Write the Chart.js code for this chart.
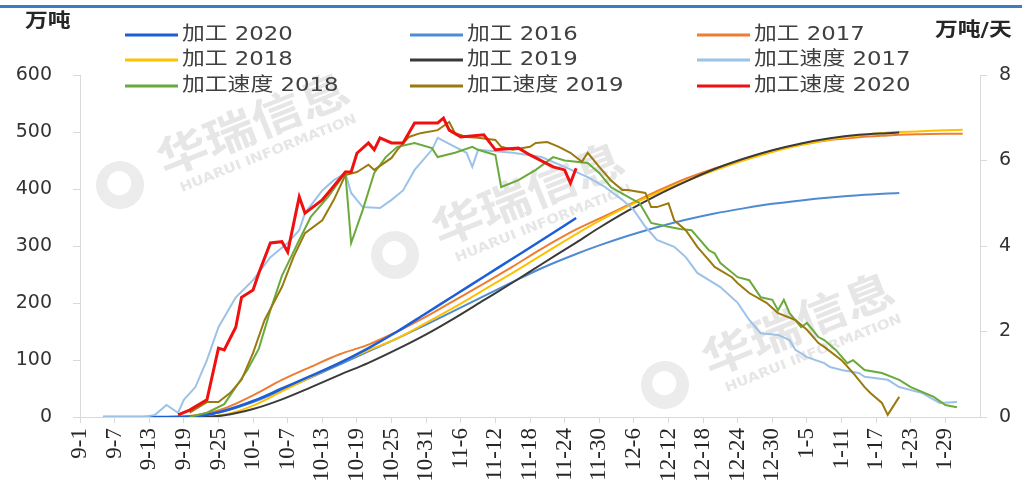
<!DOCTYPE html>
<html>
<head>
<meta charset="utf-8">
<script src="https://cdn.jsdelivr.net/npm/chart.js@4.4.1/dist/chart.umd.min.js"></script>
<style>
  body { margin: 0; background: #fff; }
  #wrap { width: 1022px; height: 486px; position: relative; }
</style>
</head>
<body>
<div id="wrap"><canvas id="chart"></canvas></div>
<script>
// x axis tick labels (one every 6 days, day 0 = 9-1)
const tickLabels = ['9-1', '9-7', '9-13', '9-19', '9-25', '10-1', '10-7', '10-13', '10-19', '10-25',
  '10-31', '11-6', '11-12', '11-18', '11-24', '11-30', '12-6', '12-12', '12-18', '12-24',
  '12-30', '1-5', '1-11', '1-17', '1-23', '1-29'];
const tickDays = tickLabels.map((_, i) => i * 6);

// cumulative processing (万吨), sampled on these days
const cumDays = [4, 15, 20, 25, 30, 35, 40, 45, 50, 55, 60, 65, 70, 75, 80, 86, 90, 95, 100, 105,
  110, 115, 120, 125, 130, 135, 140, 142, 145, 150, 153];
const cum2020 = [0, 0, 1, 11, 28, 50, 72, 95, 121, 150, 182, 214, 246, 278, 310, 349,
  null, null, null, null, null, null, null, null, null, null, null, null, null, null, null];
const cum2016 = [0, 0, 2, 10, 26, 47, 69, 92, 115, 138, 162, 187, 212, 237, 261, 286, 301, 318, 333, 346,
  357, 366, 374, 380, 385, 389, 392, 393, null, null, null];
const cum2017 = [0, 0, 3, 15, 38, 65, 88, 110, 127, 150, 176, 205, 234, 264, 295, 329, 348, 372, 396, 418,
  436, 452, 467, 478, 486, 491, 494, 495, 496, 497, 497];
const cum2018 = [0, 0, 0, 4, 20, 45, 70, 95, 117, 138, 165, 193, 223, 253, 284, 321, 344, 370, 393, 414,
  433, 450, 465, 477, 487, 494, 499, 500, 501, 503, 504];
const cum2019 = [0, 0, 0, 3, 14, 31, 52, 74, 95, 119, 145, 174, 205, 236, 268, 306, 332, 362, 389, 413,
  435, 453, 468, 480, 489, 495, 498, 499, null, null, null];

// processing speed (万吨/天)
const spd2017Days = [4, 11, 13, 15, 17, 18, 20, 22, 24, 27, 30, 33, 36, 38, 39, 42, 44, 46, 47, 49, 52, 54, 56, 58,
  61, 62, 65, 67, 68, 69, 75, 80, 84, 88, 91, 94, 96, 98, 100, 103, 105, 107, 111, 114, 116, 118,
  121, 123, 124, 126, 129, 130, 132, 135, 136, 140, 142, 146, 149, 152];
const spd2017 = [0, 0, 0.05, 0.28, 0.1, 0.4, 0.7, 1.33, 2.1, 2.8, 3.2, 3.74, 4.07, 4.37, 4.77, 5.3, 5.54, 5.7, 5.24, 4.91, 4.89, 5.08, 5.3, 5.78,
  6.25, 6.53, 6.32, 6.18, 5.85, 6.25, 6.18, 6.08, 5.85, 5.61, 5.38, 5.08, 4.84, 4.45, 4.14, 3.98, 3.74, 3.37, 3.04, 2.67, 2.27, 1.96,
  1.92, 1.8, 1.57, 1.4, 1.26, 1.17, 1.1, 1.03, 0.94, 0.87, 0.7, 0.56, 0.33, 0.35];

const spd2018Days = [19, 22, 25, 27, 29, 31, 33, 35, 38, 40, 43, 46, 47, 49, 51, 53, 55, 58, 61, 62, 65, 68, 69, 72, 73,
  76, 79, 82, 84, 88, 90, 92, 95, 97, 99, 102, 104, 106, 109, 110, 111, 114, 116, 118, 120, 121, 122, 123,
  125, 126, 128, 129, 131, 133, 134, 136, 139, 142, 144, 148, 150, 152];
const spd2018 = [0, 0.1, 0.3, 0.7, 1.1, 1.6, 2.5, 3.3, 4.14, 4.68, 5.15, 5.71, 4.07, 4.84, 5.71, 6.08, 6.32, 6.41, 6.29, 6.08, 6.18, 6.32, 6.25, 6.13, 5.38,
  5.54, 5.78, 6.08, 6.0, 5.94, 5.71, 5.38, 5.15, 5.0, 4.54, 4.45, 4.4, 4.37, 3.9, 3.83, 3.6, 3.27, 3.2, 2.8, 2.74, 2.5, 2.74, 2.43,
  2.1, 2.2, 1.87, 1.8, 1.57, 1.26, 1.33, 1.1, 1.03, 0.87, 0.7, 0.47, 0.28, 0.23];

const spd2019Days = [19, 22, 24, 26, 28, 30, 32, 35, 37, 39, 42, 44, 46, 48, 50, 51, 54, 55, 57, 59, 62, 64, 65, 67, 69,
  72, 73, 75, 78, 79, 81, 83, 85, 87, 88, 90, 92, 94, 95, 98, 99, 100, 102, 103, 105, 107, 109, 110,
  113, 114, 116, 119, 121, 124, 126, 128, 129, 132, 134, 136, 137, 139, 140, 142];
const spd2019 = [0.1, 0.35, 0.35, 0.56, 0.87, 1.5, 2.27, 3.04, 3.74, 4.3, 4.6, 5.08, 5.66, 5.73, 5.9, 5.78, 6.06, 6.25, 6.55, 6.64, 6.71, 6.9, 6.64, 6.55, 6.53,
  6.48, 6.32, 6.25, 6.32, 6.41, 6.43, 6.32, 6.18, 5.97, 6.18, 5.85, 5.54, 5.31, 5.31, 5.24, 4.91, 4.91, 5.0, 4.6, 4.37, 3.98, 3.67, 3.51,
  3.27, 3.13, 2.9, 2.67, 2.43, 2.27, 2.04, 1.73, 1.64, 1.33, 1.03, 0.7, 0.56, 0.33, 0.05, 0.47];

const spd2020Days = [17, 19, 22, 24, 25, 27, 28, 30, 31, 33, 35, 36, 38, 39, 42, 43, 46, 47, 48, 50, 51, 52, 54, 56, 58,
  62, 63, 64, 66, 70, 72, 76, 78, 82, 84, 85, 86];
const spd2020 = [0.05, 0.16, 0.4, 1.61, 1.57, 2.1, 2.8, 2.97, 3.37, 4.07, 4.1, 3.86, 5.15, 4.77, 5.08, 5.24, 5.73, 5.73, 6.17, 6.41, 6.25, 6.53, 6.41, 6.41, 6.88,
  6.88, 6.99, 6.71, 6.55, 6.6, 6.25, 6.29, 6.13, 5.85, 5.78, 5.47, 5.82];

// turn day + value lists into {x, y} points
function pts(days, vals) {
  return days.map((d, i) => ({ x: d, y: vals[i] }));
}

function line(label, days, vals, color, width, axis, order, smooth) {
  return {
    label: label,
    data: pts(days, vals),
    borderColor: color,
    backgroundColor: color,
    borderWidth: width,
    pointRadius: 0,
    fill: false,
    yAxisID: axis,
    order: order,
    cubicInterpolationMode: smooth ? 'monotone' : 'default',
    tension: 0
  };
}

// legend order: row by row, 3 columns
const datasets = [
  line('加工 2020', cumDays, cum2020, '#1c5ed8', 2.5, 'y', 5, true),
  line('加工 2016', cumDays, cum2016, '#4f8bd0', 2, 'y', 9, true),
  line('加工 2017', cumDays, cum2017, '#ed7d31', 2, 'y', 8, true),
  line('加工 2018', cumDays, cum2018, '#ffc000', 2, 'y', 7, true),
  line('加工 2019', cumDays, cum2019, '#3a3a3a', 2, 'y', 6, true),
  line('加工速度 2017', spd2017Days, spd2017, '#9cc2e8', 2, 'y1', 4, false),
  line('加工速度 2018', spd2018Days, spd2018, '#6aaa3c', 2, 'y1', 3, false),
  line('加工速度 2019', spd2019Days, spd2019, '#9a7a10', 2, 'y1', 2, false),
  line('加工速度 2020', spd2020Days, spd2020, '#f01010', 3, 'y1', 1, false)
];

function drawText(ctx, text, x, y, sx) {
  ctx.save();
  ctx.translate(x, y);
  ctx.scale(sx, 1);
  ctx.fillText(text, 0, 0);
  ctx.restore();
}

// faint watermark stamps behind the lines
const stamps = [[120, 185], [395, 255], [665, 385]];
const watermark = {
  id: 'watermark',
  beforeDatasetsDraw(chart) {
    const ctx = chart.ctx;
    ctx.save();
    stamps.forEach(([x, y]) => {
      ctx.save();
      ctx.translate(x, y);
      ctx.rotate(-0.38);
      ctx.fillStyle = '#ececec';
      ctx.beginPath();
      ctx.arc(0, 0, 24, 0, Math.PI * 2);
      ctx.fill();
      ctx.fillStyle = '#fff';
      ctx.beginPath();
      ctx.arc(0, -2, 12, 0, Math.PI * 2);
      ctx.fill();
      ctx.fillStyle = '#e6e6e6';
      ctx.font = 'bold 44px "Noto Sans CJK SC"';
      ctx.textBaseline = 'middle';
      drawText(ctx, '华瑞信息', 45, -8, 1.15);
      ctx.font = 'bold 13px "DejaVu Sans"';
      drawText(ctx, 'HUARUI INFORMATION', 55, 26, 1.15);
      ctx.restore();
    });
    ctx.restore();
  }
};

// legend, axis titles and the top rule, drawn on the canvas
const decor = {
  id: 'decor',
  afterDraw(chart) {
    const ctx = chart.ctx;
    ctx.save();
    ctx.fillStyle = '#3b7dc4';
    ctx.fillRect(0, 5, chart.width, 3);

    ctx.fillStyle = '#262626';
    ctx.textBaseline = 'middle';
    ctx.font = 'bold 19px "DejaVu Sans", "Noto Sans CJK SC"';
    drawText(ctx, '万吨', 25, 22, 1.2);
    drawText(ctx, '万吨/天', 935, 31, 1.2);

    const colX = [125, 410, 697];
    const rowY = [35, 60, 86];
    ctx.font = '19px "DejaVu Sans", "Noto Sans CJK SC"';
    chart.data.datasets.forEach((ds, i) => {
      const x = colX[i % 3];
      const y = rowY[Math.floor(i / 3)];
      ctx.strokeStyle = ds.borderColor;
      ctx.lineWidth = 3;
      ctx.beginPath();
      ctx.moveTo(x, y);
      ctx.lineTo(x + 53, y);
      ctx.stroke();
      ctx.fillStyle = '#404040';
      drawText(ctx, ds.label, x + 57, y, 1.2);
    });
    ctx.restore();
  }
};

const axisColor = '#d9d9d9';

new Chart(document.getElementById('chart'), {
  type: 'line',
  data: { datasets: datasets },
  options: {
    responsive: true,
    maintainAspectRatio: false,
    animation: false,
    devicePixelRatio: 1,
    layout: { padding: { top: 75, left: 0, right: 0, bottom: 0 } },
    plugins: {
      legend: { display: false },
      tooltip: { enabled: false }
    },
    scales: {
      x: {
        type: 'linear',
        min: 0,
        max: 156,
        grid: { drawOnChartArea: false, color: axisColor, tickLength: 6 },
        border: { color: axisColor },
        afterBuildTicks: (axis) => { axis.ticks = tickDays.map(v => ({ value: v })); },
        afterFit: (axis) => { axis.height = 69; },
        ticks: {
          autoSkip: false,
          minRotation: 90,
          maxRotation: 90,
          padding: 5,
          color: '#262626',
          font: { family: '"Liberation Serif", serif', size: 23 },
          callback: (v, i) => tickLabels[i]
        }
      },
      y: {
        position: 'left',
        min: 0,
        max: 600,
        grid: { drawOnChartArea: false, color: axisColor, tickLength: 7 },
        border: { color: axisColor },
        afterFit: (axis) => { axis.width = 80; },
        ticks: {
          stepSize: 100,
          padding: 21,
          color: '#333333',
          font: { family: '"DejaVu Sans"', size: 19 }
        }
      },
      y1: {
        position: 'right',
        min: 0,
        max: 8,
        grid: { drawOnChartArea: false, color: axisColor, tickLength: 7 },
        border: { color: axisColor },
        afterFit: (axis) => { axis.width = 42; },
        ticks: {
          stepSize: 2,
          padding: 12,
          color: '#333333',
          font: { family: '"DejaVu Sans"', size: 19 }
        }
      }
    }
  },
  plugins: [watermark, decor]
});
</script>
</body>
</html>
